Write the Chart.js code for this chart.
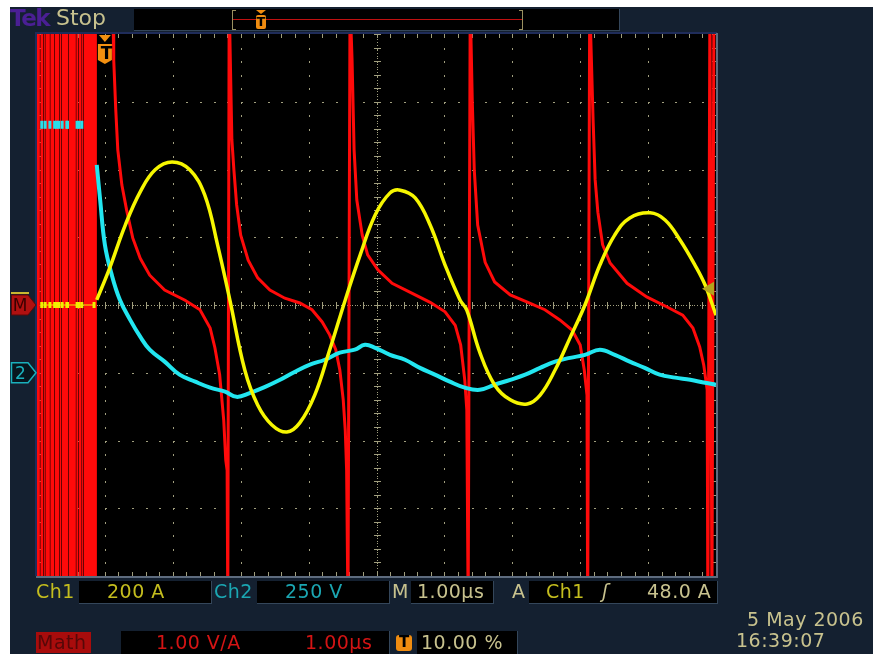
<!DOCTYPE html>
<html><head><meta charset="utf-8">
<script src="https://cdn.jsdelivr.net/npm/chart.js@4/dist/chart.umd.min.js"></script>
<style>
html,body{margin:0;padding:0;background:#fff;}
#wrap{position:relative;width:873px;height:654px;background:#fff;overflow:hidden;font-family:"DejaVu Sans",sans-serif;}
#panel{position:absolute;left:10px;top:7px;right:0;bottom:0;background:#142030;}
canvas{position:absolute;left:0;top:0;}
.t{position:absolute;white-space:nowrap;line-height:1;font-size:19px;letter-spacing:0.5px;}
.box{position:absolute;background:#000;border-bottom:1px solid #34465a;border-right:1px solid #34465a;}
</style></head>
<body>
<div id="wrap">
<div id="panel"></div>
<canvas id="c" width="873" height="654"></canvas>

<!-- top bar -->
<div class="t" style="left:10px;top:7px;font-size:23px;color:#4a1f94;font-weight:bold;letter-spacing:-1.5px;">Tek</div>
<div class="t" style="left:56px;top:7px;font-size:22px;color:#c8c28e;letter-spacing:0;">Stop</div>
<div class="box" style="left:134px;top:9px;width:485px;height:21px;"></div>
<div style="position:absolute;left:233px;top:19px;width:289px;height:1px;background:#c01010;"></div>
<div style="position:absolute;left:232px;top:10px;width:3px;height:18px;border:1px solid #9a9060;border-right:none;"></div>
<div style="position:absolute;left:519px;top:10px;width:3px;height:18px;border:1px solid #9a9060;border-left:none;"></div>
<div style="position:absolute;left:256px;top:10px;width:0;height:0;border-left:5px solid transparent;border-right:5px solid transparent;border-top:4px solid #f08c10;"></div>
<div style="position:absolute;left:256px;top:15px;width:10px;height:14px;background:#f08c10;border-radius:2px;"></div>
<div class="t" style="left:256px;top:15px;width:10px;text-align:center;font-size:13px;font-weight:bold;color:#000;letter-spacing:0;">T</div>

<!-- plot markers text -->
<div class="t" id="trigT" style="left:99px;top:45px;width:15px;text-align:center;font-size:17px;font-weight:bold;color:#000;letter-spacing:0;">T</div>
<div class="t" style="left:11px;top:297px;width:18px;text-align:center;font-size:17px;color:#3a0000;letter-spacing:0;">M</div>
<div class="t" style="left:11px;top:365px;width:19px;text-align:center;font-size:17px;color:#1ab0bc;letter-spacing:0;">2</div>

<!-- bottom row 1 -->
<div class="t" style="left:36px;top:582px;color:#c4bd1e;">Ch1</div>
<div class="box" style="left:79px;top:581px;width:132px;height:22px;"></div>
<div class="t" style="left:107px;top:582px;color:#c4bd1e;">200 A</div>
<div class="t" style="left:214px;top:582px;color:#1ba6b2;">Ch2</div>
<div class="box" style="left:257px;top:581px;width:132px;height:22px;"></div>
<div class="t" style="left:285px;top:582px;color:#1ba6b2;">250 V</div>
<div class="t" style="left:392px;top:582px;color:#c8c28e;">M</div>
<div class="box" style="left:411px;top:581px;width:82px;height:22px;"></div>
<div class="t" style="left:417px;top:582px;color:#c8c28e;">1.00µs</div>
<div class="t" style="left:512px;top:582px;color:#c8c28e;">A</div>
<div class="box" style="left:529px;top:581px;width:188px;height:22px;"></div>
<div class="t" style="left:546px;top:582px;color:#c4bd1e;">Ch1</div>
<div class="t" style="left:602px;top:582px;color:#c8c28e;font-style:italic;">ʃ</div>
<div class="t" style="left:647px;top:582px;color:#c8c28e;">48.0 A</div>

<!-- bottom row 2 -->
<div style="position:absolute;left:36px;top:632px;width:55px;height:21px;background:#a80c0c;"></div>
<div class="t" style="left:37px;top:633px;color:#560808;">Math</div>
<div class="box" style="left:121px;top:631px;width:268px;height:23px;"></div>
<div class="t" style="left:156px;top:633px;color:#d41414;">1.00 V/A</div>
<div class="t" style="left:305px;top:633px;color:#d41414;">1.00µs</div>
<div style="position:absolute;left:396px;top:635px;width:16px;height:16px;background:#f08c10;border-radius:3px;"></div>
<div class="t" style="left:396px;top:635px;width:16px;text-align:center;font-size:15px;font-weight:bold;color:#000;letter-spacing:0;">T</div>
<div class="box" style="left:417px;top:631px;width:100px;height:23px;"></div>
<div class="t" style="left:421px;top:633px;color:#c8c28e;">10.00 %</div>
<div class="t" style="left:747px;top:610px;color:#c8c28e;">5 May 2006</div>
<div class="t" style="left:736px;top:631px;color:#c8c28e;">16:39:07</div>
</div>

<script>
// ===== DATA (time in µs, trigger at 0) =====
// Ch1 current (A)
const ch1Time = [-0.12,0.07,0.30,0.52,0.74,0.99,1.25,1.47,1.66,1.84,2.06,2.25,2.46,2.68,2.87,3.09,3.31,3.54,3.76,3.98,4.20,4.35,4.57,4.79,5.01,5.23,5.33,5.52,5.74,5.97,6.22,6.41,6.63,6.85,7.07,7.29,7.51,7.73,8.03,8.25,8.47,8.69,8.84,9.00];
const ch1Amps = [15,109,236,334,399,422,399,325,177,15,-192,-295,-354,-375,-348,-266,-133,15,148,266,331,339,316,236,118,15,-15,-139,-236,-280,-292,-266,-192,-97,0,118,207,257,272,251,192,118,59,-30];
// Ch2 voltage (V)
const ch2Time = [-0.12,-0.07,0.00,0.10,0.22,0.37,0.52,0.66,0.88,1.10,1.33,1.55,1.77,1.94,2.14,2.36,2.58,2.80,3.02,3.24,3.46,3.68,3.83,3.98,4.20,4.42,4.64,4.86,5.08,5.30,5.52,5.74,5.97,6.19,6.41,6.63,6.85,7.07,7.29,7.51,7.73,7.95,8.17,8.40,8.62,8.84,9.00];
const ch2Volts = [767,638,472,362,269,196,133,85,41,-7,-33,-55,-70,-89,-74,-52,-26,4,30,48,74,85,103,92,66,48,18,-7,-33,-55,-63,-44,-26,-7,18,41,55,66,85,66,41,18,-7,-18,-26,-37,-44];
// Math = Ch2/Ch1 (V/A); ±4.5 marks full-scale spikes
const mathTime = [0.10,0.12,0.13,0.16,0.19,0.25,0.32,0.41,0.52,0.66,0.88,1.18,1.40,1.55,1.62,1.69,1.75,1.78,1.80,1.81,1.83,1.87,1.90,1.94,2.00,2.11,2.25,2.43,2.65,2.87,3.05,3.20,3.31,3.40,3.46,3.51,3.54,3.56,3.58,3.61,3.64,3.67,3.71,3.79,3.87,4.02,4.23,4.49,4.79,5.01,5.16,5.24,5.30,5.33,5.35,5.38,5.41,5.44,5.49,5.60,5.74,5.97,6.23,6.48,6.70,6.88,7.00,7.06,7.10,7.11,7.14,7.19,7.22,7.26,7.33,7.44,7.69,7.98,8.28,8.51,8.66,8.76,8.82,8.87,8.88,8.91,8.94,8.97];
const mathVA   = [4.5,4.2,3.62,2.88,2.29,1.77,1.40,0.99,0.69,0.44,0.22,0.07,-0.07,-0.34,-0.63,-1.03,-1.70,-2.29,-2.44,-4.5,4.5,2.44,1.99,1.48,1.03,0.66,0.40,0.22,0.10,0.03,-0.07,-0.25,-0.44,-0.66,-0.96,-1.40,-1.85,-2.44,-4.5,4.5,3.62,2.29,1.55,1.03,0.74,0.52,0.32,0.19,0.04,-0.10,-0.30,-0.59,-1.11,-1.55,-4.5,4.5,3.03,1.99,1.18,0.63,0.34,0.15,0.04,-0.07,-0.22,-0.37,-0.59,-0.96,-1.33,-4.5,4.5,2.73,1.85,1.37,0.89,0.62,0.32,0.12,-0.03,-0.15,-0.34,-0.62,-0.89,-1.25,-4.5,4.5,-4.5,4.5];
// Math pre-trigger saturated bands (µs start, end)
const mathPreBands = [[-1.00,-0.958],[-0.950,-0.909],[-0.901,-0.884],[-0.876,-0.811],[-0.803,-0.747],[-0.739,-0.674],[-0.666,-0.644],[-0.636,-0.541],[-0.533,-0.428],[-0.420,-0.394],[-0.386,-0.344],[-0.336,-0.320],[-0.312,-0.118]];
// Pre-trigger noise blips
const ch1PreTime = [-0.93,-0.88,-0.81,-0.74,-0.71,-0.68,-0.63,-0.56,-0.55,-0.41,-0.38,-0.34,-0.16];
const ch1PreAmps = [0,0,0,0,0,0,0,0,0,0,0,0,0];
const ch2PreTime = [-0.93,-0.88,-0.81,-0.74,-0.71,-0.68,-0.63,-0.56,-0.55,-0.41,-0.38,-0.34];
const ch2PreVolts = [915,915,915,915,915,915,915,915,915,915,915,915];
// Scope settings
const ch1Range = [-800, 800];     // 200 A/div
const ch2Range = [-750, 1250];    // 250 V/div, ground 1 div below centre
const mathRange = [-4, 4];        // 1.00 V/A/div
const timeRange = [-1, 9];        // 1.00 µs/div, trigger at 10 %
const triggerLevel = 48;          // A

const zip = (xs, ys) => xs.map((x, i) => ({x, y: ys[i]}));
// each saturated band drawn as a vertical trace as wide as the band
const bandSets = mathPreBands.map(([a, b]) => ({
  data: [{x: (a + b) / 2, y: 4.6}, {x: (a + b) / 2, y: -4.6}], yAxisID: 'yM',
  borderColor: '#ff0a0a', borderCapStyle: 'butt', pointRadius: 0, clip: 0,
  borderWidth: (ctx) => {
    const s = ctx.chart.scales.x;
    return s ? Math.max(1, Math.abs(s.getPixelForValue(b) - s.getPixelForValue(a))) : 1;
  }
}));

const scopeDecor = {
  id: 'scopeDecor',
  beforeDraw(chart) {
    const {ctx, chartArea: a} = chart;
    ctx.save();
    ctx.fillStyle = '#000';
    ctx.fillRect(a.left, a.top, a.right - a.left, a.bottom - a.top);
    ctx.restore();
  },
  beforeDatasetsDraw(chart) {
    const {ctx, chartArea: a, scales} = chart;
    const xs = scales.x, ys = scales.yM;
    ctx.save();
    ctx.fillStyle = '#a09e7e';
    const dX = (xs.getPixelForValue(1) - xs.getPixelForValue(0));
    const dY = (ys.getPixelForValue(0) - ys.getPixelForValue(1));
    for (let t = timeRange[0] + 1; t < timeRange[1]; t++) {
      const x = Math.round(xs.getPixelForValue(t));
      for (let j = 0; j <= 40; j++) ctx.fillRect(x, Math.round(a.top + j * dY / 5), 1, 2);
    }
    for (let v = mathRange[0] + 1; v < mathRange[1]; v++) {
      const y = Math.round(ys.getPixelForValue(v));
      for (let j = 0; j <= 50; j++) ctx.fillRect(Math.round(a.left + j * dX / 5), y, 2, 1);
    }
    const cx = Math.round(xs.getPixelForValue(4)), cy = Math.round(ys.getPixelForValue(0));
    for (let k = 0; k <= 250; k++) ctx.fillRect(Math.round(a.left + k * dX / 25), cy, 1, 1);
    for (let k = 0; k <= 200; k++) ctx.fillRect(cx, Math.round(a.top + k * dY / 25), 1, 1);
    for (let k = 0; k <= 50; k++) {
      const x = Math.round(a.left + k * dX / 5);
      ctx.fillRect(x, cy - 3, 1, 7);
      ctx.fillRect(x, a.top, 1, 4);
      ctx.fillRect(x, a.bottom - 4, 1, 4);
    }
    for (let k = 0; k <= 40; k++) {
      const y = Math.round(a.top + k * dY / 5);
      ctx.fillRect(cx - 3, y, 7, 1);
      ctx.fillRect(a.left, y, 4, 1);
      ctx.fillRect(a.right - 4, y, 4, 1);
    }
    ctx.restore();
  },
  afterDraw(chart) {
    const {ctx, chartArea: a, scales} = chart;
    ctx.save();
    // frame
    ctx.strokeStyle = '#1f2c5a'; ctx.lineWidth = 2;
    ctx.beginPath(); ctx.moveTo(a.left - 1, a.bottom); ctx.lineTo(a.left - 1, a.top - 1); ctx.lineTo(a.right + 1, a.top - 1); ctx.stroke();
    ctx.strokeStyle = '#5d6b7e';
    ctx.beginPath(); ctx.moveTo(a.right + 1, a.top - 1); ctx.lineTo(a.right + 1, a.bottom + 1); ctx.lineTo(a.left - 1, a.bottom + 1); ctx.stroke();
    // trigger position marker
    const tx = scales.x.getPixelForValue(0);
    ctx.fillStyle = '#f39010';
    ctx.beginPath(); ctx.moveTo(tx - 6, a.top + 1); ctx.lineTo(tx + 6, a.top + 1); ctx.lineTo(tx, a.top + 8); ctx.closePath(); ctx.fill();
    ctx.beginPath();
    ctx.moveTo(tx - 7, a.top + 10); ctx.lineTo(tx + 7, a.top + 10); ctx.lineTo(tx + 7, a.top + 26);
    ctx.lineTo(tx, a.top + 30); ctx.lineTo(tx - 7, a.top + 26); ctx.closePath(); ctx.fill();
    // trigger level arrow
    const ty = scales.yA.getPixelForValue(triggerLevel);
    ctx.fillStyle = '#b4a41c';
    ctx.beginPath(); ctx.moveTo(a.right - 14, ty); ctx.lineTo(a.right - 2, ty - 7); ctx.lineTo(a.right - 2, ty + 7); ctx.closePath(); ctx.fill();
    // M marker
    const my = scales.yM.getPixelForValue(0);
    ctx.fillStyle = '#c8b830'; ctx.fillRect(11, my - 13, 18, 2);
    ctx.fillStyle = '#b01010'; ctx.strokeStyle = '#5a0808'; ctx.lineWidth = 1;
    ctx.beginPath(); ctx.moveTo(11.5, my - 10); ctx.lineTo(28, my - 10); ctx.lineTo(36, my); ctx.lineTo(28, my + 10); ctx.lineTo(11.5, my + 10); ctx.closePath(); ctx.fill(); ctx.stroke();
    // Ch2 ground marker
    const gy = scales.yV.getPixelForValue(0);
    ctx.fillStyle = '#08161e'; ctx.strokeStyle = '#1ab0bc'; ctx.lineWidth = 1.5;
    ctx.beginPath(); ctx.moveTo(11.5, gy - 10); ctx.lineTo(28, gy - 10); ctx.lineTo(36, gy); ctx.lineTo(28, gy + 10); ctx.lineTo(11.5, gy + 10); ctx.closePath(); ctx.fill(); ctx.stroke();
    ctx.restore();
  }
};

new Chart(document.getElementById('c'), {
  type: 'line',
  data: {
    datasets: [
      {data: zip(ch1PreTime, ch1PreAmps), yAxisID: 'yA', borderColor: '#f0f000', borderWidth: 1, pointStyle: 'line', rotation: 90, pointRadius: 3, pointBorderWidth: 3, pointBorderColor: '#f0f000', clip: 0},
      {data: zip(ch2PreTime, ch2PreVolts), yAxisID: 'yV', borderColor: 'rgba(0,0,0,0)', borderWidth: 0, pointStyle: 'line', rotation: 90, pointRadius: 4, pointBorderWidth: 3, pointBorderColor: '#28e0ea', clip: 0},
      {data: zip(ch1Time, ch1Amps), yAxisID: 'yA', borderColor: '#f6f600', borderWidth: 3.5, pointRadius: 0, tension: 0.4, clip: 0},
      {data: zip(ch2Time, ch2Volts), yAxisID: 'yV', borderColor: '#22e6f0', borderWidth: 4, pointRadius: 0, tension: 0.4, clip: 0},
      {data: zip(mathTime, mathVA), yAxisID: 'yM', borderColor: '#ff0a0a', borderWidth: 3, pointRadius: 0, tension: 0, clip: 0},
      ...bandSets
    ]
  },
  options: {
    responsive: false, animation: false, devicePixelRatio: 1,
    layout: {padding: {left: 37, top: 34, right: 157, bottom: 78}},
    scales: {
      x: {type: 'linear', min: timeRange[0], max: timeRange[1], display: false},
      yA: {type: 'linear', min: ch1Range[0], max: ch1Range[1], display: false},
      yV: {type: 'linear', min: ch2Range[0], max: ch2Range[1], display: false},
      yM: {type: 'linear', min: mathRange[0], max: mathRange[1], display: false}
    },
    plugins: {legend: {display: false}, tooltip: {enabled: false}, title: {display: false}}
  },
  plugins: [scopeDecor]
});
</script>
</body></html>
